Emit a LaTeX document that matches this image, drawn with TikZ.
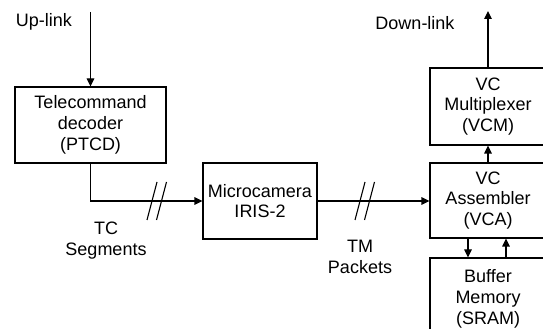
\documentclass[tikz,border=0pt]{standalone}
\usepackage{fontspec}
\setmainfont{Liberation Sans}
\usetikzlibrary{arrows.meta}
\begin{document}
\begin{tikzpicture}[x=1pt,y=1pt,
  txt/.style={align=center, inner sep=0pt, font=\fontsize{18}{20.8}\selectfont},
  box/.style={txt, draw, line width=1.1pt},
  wire/.style={line width=1.1pt},
  link/.style={wire, -{Triangle[length=8pt,width=7.5pt]}},
  pics/cut/.style={code={
    \draw[wire] (-10,-19) -- (0,19);
    \draw[wire] (-0.5,-19) -- (9.5,19);}}]
\useasboundingbox (0,0) rectangle (543,329);

% processing blocks
\node[box, minimum width=151pt, minimum height=76pt] (ptcd) at (90.5,204)
  {Telecommand\\decoder\\(PTCD)};
\node[box, minimum width=114pt, minimum height=76pt] (cam) at (260,128)
  {Microcamera\\IRIS-2};
\node[box, minimum width=116pt, minimum height=77pt] (vcm) at (488,222.5)
  {VC\\Multiplexer\\(VCM)};
\node[box, minimum width=116pt, minimum height=75pt] (vca) at (488,128.5)
  {VC\\Assembler\\(VCA)};
\node[box, minimum width=116pt, minimum height=82pt] (sram) at (488,30)
  {Buffer\\Memory\\(SRAM)};

% link labels
\node[txt] (uplbl) at (44,307) {Up-link};
\node[txt] (dnlbl) at (415,306) {Down-link};
\node[txt] (tclbl) at (106,88.5) {TC\\Segments};
\node[txt] (tmlbl) at (360,72.5) {TM\\Packets};

% free ends of the space links
\coordinate (upin) at (90.5,317);
\coordinate (dnout) at (488,318);

% connectors
\draw[link] (upin) -- (ptcd.north);
\draw[link] (ptcd.south) |- (cam.west);
\draw[link] (cam.east) -- (cam.east -| vca.west);
\draw[link] (vca.north) -- (vcm.south);
\draw[link] (vcm.north) -- (dnout);
\draw[link] ([xshift=-20pt]vca.south) -- ([xshift=-20pt]sram.north);
\draw[link] ([xshift=18pt]sram.north) -- ([xshift=18pt]vca.south);

% serial-bus break marks
\pic at (157,128) {cut};
\pic at (365,128) {cut};
\end{tikzpicture}
\end{document}
